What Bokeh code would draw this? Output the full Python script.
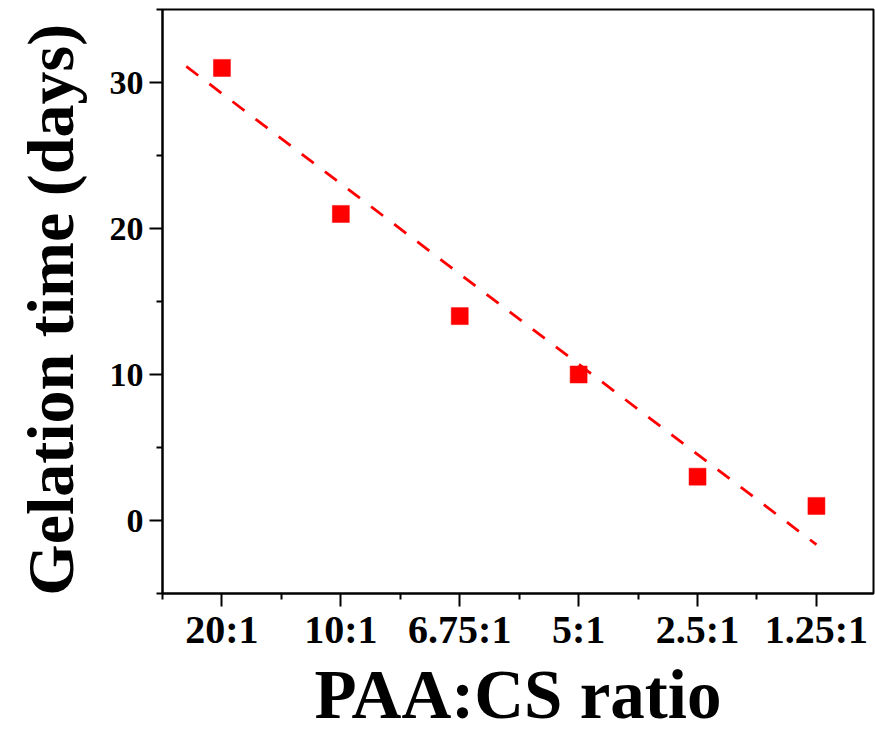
from bokeh.plotting import figure
from bokeh.models import FixedTicker, Range1d, Title
from bokeh.embed import file_html
from bokeh.resources import INLINE

# Gelation time versus PAA:CS mixing ratio
ratio_labels = ["20:1", "10:1", "6.75:1", "5:1", "2.5:1", "1.25:1"]
ratio_positions = [1, 2, 3, 4, 5, 6]
gelation_days = [31, 21, 14, 10, 3, 1]

# Linear trend line endpoints
trend_x = [0.70, 6.0]
trend_y = [31.1, -1.65]

y_ticks = [0, 10, 20, 30]
y_minor = [-5, 5, 15, 25, 35]
x_minor = [0.5, 1.5, 2.5, 3.5, 4.5, 5.5, 6.5]

FONT = "Liberation Serif"
NBSP = "\u00a0"

p = figure(
    width=875, height=732,
    x_range=Range1d(0.5, 6.48), y_range=Range1d(-5, 35),
    output_backend="svg", toolbar_location=None,
    min_border_left=162, min_border_right=2,
    min_border_top=9, min_border_bottom=139,
    background_fill_color="white", border_fill_color="white",
)

p.line(trend_x, trend_y, line_color="#ff0000", line_width=2.8, line_dash="15 14")
p.scatter(ratio_positions, gelation_days, marker="square", size=17,
          fill_color="#ff0000", line_color="#ff0000", line_width=0.5)

p.xgrid.visible = False
p.ygrid.visible = False
p.outline_line_color = "black"
p.outline_line_width = 2
p.outline_line_alpha = 1

# x axis
xa = p.xaxis[0]
xa.ticker = FixedTicker(ticks=ratio_positions, minor_ticks=x_minor)
xa.major_label_overrides = {pos: lab for pos, lab in zip(ratio_positions, ratio_labels)}

# y axis (a trailing space nudges the rotated title downward a little)
ya = p.yaxis[0]
ya.ticker = FixedTicker(ticks=y_ticks, minor_ticks=y_minor)
ya.axis_label = "Gelation time (days)" + NBSP

for ax in (xa, ya):
    ax.axis_line_width = 2
    ax.axis_line_color = "black"
    ax.major_tick_line_width = 2
    ax.minor_tick_line_width = 2
    ax.major_tick_line_color = "black"
    ax.minor_tick_line_color = "black"
    ax.major_tick_out = 13
    ax.major_tick_in = 0
    ax.minor_tick_out = 6
    ax.minor_tick_in = 0
    ax.major_label_text_font = FONT
    ax.major_label_text_font_style = "bold"
    ax.major_label_text_color = "black"
    ax.axis_label_text_font = FONT
    ax.axis_label_text_font_style = "bold"
    ax.axis_label_text_color = "black"

xa.major_label_text_font_size = "40px"
xa.major_label_standoff = 0

ya.major_label_text_font_size = "34px"
ya.major_label_standoff = 6
ya.axis_label_text_font_size = "66px"
ya.axis_label_standoff = 20

# x axis title as a panel below the axis
x_title = Title(
    text="PAA:CS ratio", align="center", vertical_align="bottom",
    text_font=FONT, text_font_style="bold", text_font_size="69px",
    text_color="black", standoff=0, offset=0,
)
p.add_layout(x_title, "below")

open("out.html", "w").write(file_html(p, INLINE))
